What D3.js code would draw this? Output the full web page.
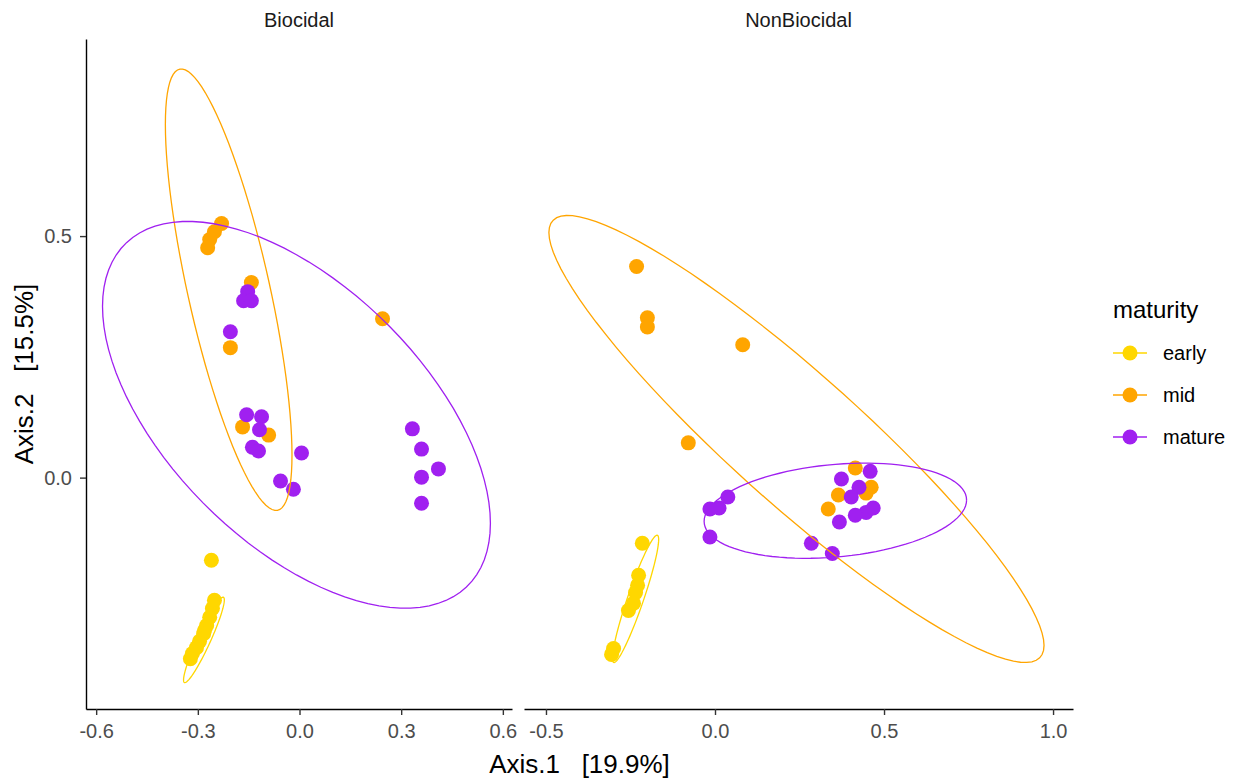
<!DOCTYPE html>
<html>
<head>
<meta charset="utf-8">
<script src="https://cdn.jsdelivr.net/npm/d3@7"></script>
<style>
  body { margin: 0; background: #fff; }
  text { font-family: "Liberation Sans", Arial, sans-serif; }
</style>
</head>
<body>
<div id="chart"></div>
<script>
// maturity groups and colours
const groups = ["early", "mid", "mature"];
const groupColors = ["#FFD700", "#FFA500", "#A020F0"];
const panels = ["Biocidal", "NonBiocidal"];

// PCoA coordinates [Axis.1, Axis.2]
const biocidalEarly = [[-0.260, -0.171], [-0.251, -0.254], [-0.257, -0.271], [-0.265, -0.289], [-0.274, -0.306],
    [-0.283, -0.323], [-0.295, -0.339], [-0.304, -0.352], [-0.316, -0.364], [-0.322, -0.375], [-0.280, -0.316]];
const biocidalMid = [[-0.230, 0.526], [-0.251, 0.509], [-0.265, 0.493], [-0.271, 0.476], [-0.142, 0.404],
    [-0.204, 0.269], [0.245, 0.329], [-0.168, 0.105], [-0.091, 0.088]];
const biocidalMature = [[-0.153, 0.385], [-0.165, 0.366], [-0.142, 0.366], [-0.204, 0.302], [-0.156, 0.130],
    [-0.112, 0.126], [-0.118, 0.099], [-0.139, 0.063], [-0.121, 0.055], [0.006, 0.051], [-0.056, -0.007],
    [-0.018, -0.024], [0.333, 0.101], [0.360, 0.059], [0.410, 0.018], [0.360, 0.001], [0.360, -0.053]];

const nonBiocidalEarly = [[-0.215, -0.136], [-0.226, -0.202], [-0.229, -0.223], [-0.235, -0.238], [-0.241, -0.260],
    [-0.256, -0.275], [-0.300, -0.354], [-0.306, -0.366]];
const nonBiocidalMid = [[-0.232, 0.437], [-0.200, 0.331], [-0.200, 0.312], [0.082, 0.275], [-0.079, 0.072],
    [0.415, 0.020], [0.462, -0.020], [0.365, -0.036], [0.447, -0.032], [0.335, -0.065]];
const nonBiocidalMature = [[0.374, -0.003], [0.459, 0.013], [0.426, -0.020], [0.403, -0.040], [0.447, -0.072],
    [0.468, -0.063], [0.415, -0.078], [0.368, -0.092], [0.038, -0.040], [0.012, -0.063], [-0.015, -0.065],
    [-0.015, -0.123], [0.285, -0.136], [0.347, -0.157]];

// 95% ellipses: centre and scaled covariance (data units)
const ellipseCentres = [
    [[-0.282, -0.336], [-0.209, 0.389], [-0.009, 0.130]],
    [[-0.235, -0.251], [0.241, 0.080], [0.356, -0.0685]]
];
const ellipseShapes = [ // [sxx, syy, sxy]
    [[0.00362, 0.00782, 0.00498], [0.0349, 0.2088, -0.0639], [0.3275, 0.1603, -0.1285]],
    [[0.00467, 0.01739, 0.00839], [0.5363, 0.2141, -0.3130], [0.1507, 0.00971, 0.00854]]
];

const xTicks = [[-0.6, -0.3, 0.0, 0.3, 0.6], [-0.5, 0.0, 0.5, 1.0]];
const yTicks = [0.0, 0.5];

const panelPoints = [
    [biocidalEarly, biocidalMid, biocidalMature],
    [nonBiocidalEarly, nonBiocidalMid, nonBiocidalMature]
];

const width = 1243, height = 780;
const svg = d3.select("#chart").append("svg")
    .attr("width", width)
    .attr("height", height);

const color = d3.scaleOrdinal().domain(groups).range(groupColors);

const y = d3.scaleLinear().domain([-0.479, 0.908]).range([709, 39]);
const xScales = [
    d3.scaleLinear().domain([-0.630, 0.627]).range([86, 512]),
    d3.scaleLinear().domain([-0.565, 1.059]).range([524, 1073])
];

function ellipsePath(c, s, x) {
    const l11 = Math.sqrt(s[0]);
    const l21 = s[2] / l11;
    const l22 = Math.sqrt(s[1] - l21 * l21);
    const pts = d3.range(0, 101).map(i => {
        const t = i / 100 * 2 * Math.PI;
        return [x(c[0] + l11 * Math.cos(t)), y(c[1] + l21 * Math.cos(t) + l22 * Math.sin(t))];
    });
    return d3.line()(pts);
}

panels.forEach((name, p) => {
    const x = xScales[p];
    const g = svg.append("g").classed("panel", true);

    // strip label
    g.append("text")
        .attr("x", (x.range()[0] + x.range()[1]) / 2)
        .attr("y", 27)
        .attr("text-anchor", "middle")
        .attr("font-size", 20)
        .attr("fill", "#1A1A1A")
        .text(name);

    // points
    panelPoints[p].forEach((pts, gi) => {
        g.append("g").selectAll("circle")
            .data(pts)
            .join("circle")
            .attr("cx", d => x(d[0]))
            .attr("cy", d => y(d[1]))
            .attr("r", 7.5)
            .attr("fill", color(groups[gi]));
    });

    // ellipses
    groups.forEach((grp, gi) => {
        g.append("path")
            .attr("d", ellipsePath(ellipseCentres[p][gi], ellipseShapes[p][gi], x))
            .attr("fill", "none")
            .attr("stroke", color(grp))
            .attr("stroke-width", 1.3);
    });

    // x axis
    const xAxis = g.append("g")
        .attr("transform", `translate(0,${y.range()[0]})`)
        .call(d3.axisBottom(x).tickValues(xTicks[p]).tickFormat(d3.format(".1f")).tickSizeInner(6).tickSizeOuter(0).tickPadding(9));
    xAxis.select(".domain").attr("stroke", "#000").attr("stroke-width", 1.4);
    xAxis.selectAll(".tick line").attr("stroke", "#333").attr("stroke-width", 1.4);
    xAxis.selectAll(".tick text").attr("fill", "#4D4D4D").attr("font-size", 20)
        .attr("font-family", "Liberation Sans, Arial, sans-serif")
        .text(d => d3.format(".1f")(d).replace("−", "-"));
});

// y axis on the left panel only
const yAxis = svg.append("g")
    .attr("transform", `translate(${xScales[0].range()[0]},0)`)
    .call(d3.axisLeft(y).tickValues(yTicks).tickFormat(d3.format(".1f")).tickSizeInner(6).tickSizeOuter(0).tickPadding(8));
yAxis.select(".domain").attr("stroke", "#000").attr("stroke-width", 1.4);
yAxis.selectAll(".tick line").attr("stroke", "#333").attr("stroke-width", 1.4);
yAxis.selectAll(".tick text").attr("fill", "#4D4D4D").attr("font-size", 20)
    .attr("font-family", "Liberation Sans, Arial, sans-serif");

// axis titles
svg.append("text")
    .attr("x", (86 + 1073) / 2)
    .attr("y", 773)
    .attr("text-anchor", "middle")
    .attr("font-size", 26)
    .style("white-space", "pre")
    .text("Axis.1   [19.9%]");

svg.append("text")
    .attr("transform", `translate(33,${(39 + 709) / 2}) rotate(-90)`)
    .attr("text-anchor", "middle")
    .attr("font-size", 26)
    .style("white-space", "pre")
    .text("Axis.2   [15.5%]");

// legend
const legend = svg.append("g").attr("transform", "translate(1113,0)");
legend.append("text")
    .attr("x", 0)
    .attr("y", 318)
    .attr("font-size", 24)
    .text("maturity");

const keys = legend.selectAll("g.key")
    .data(groups)
    .join("g")
    .classed("key", true)
    .attr("transform", (d, i) => `translate(0,${353 + i * 42})`);
keys.append("line")
    .attr("x1", 0).attr("x2", 34)
    .attr("stroke", d => color(d))
    .attr("stroke-width", 1.3);
keys.append("circle")
    .attr("cx", 17)
    .attr("r", 7.5)
    .attr("fill", d => color(d));
keys.append("text")
    .attr("x", 50)
    .attr("y", 7)
    .attr("font-size", 20)
    .text(d => d);
</script>
</body>
</html>
